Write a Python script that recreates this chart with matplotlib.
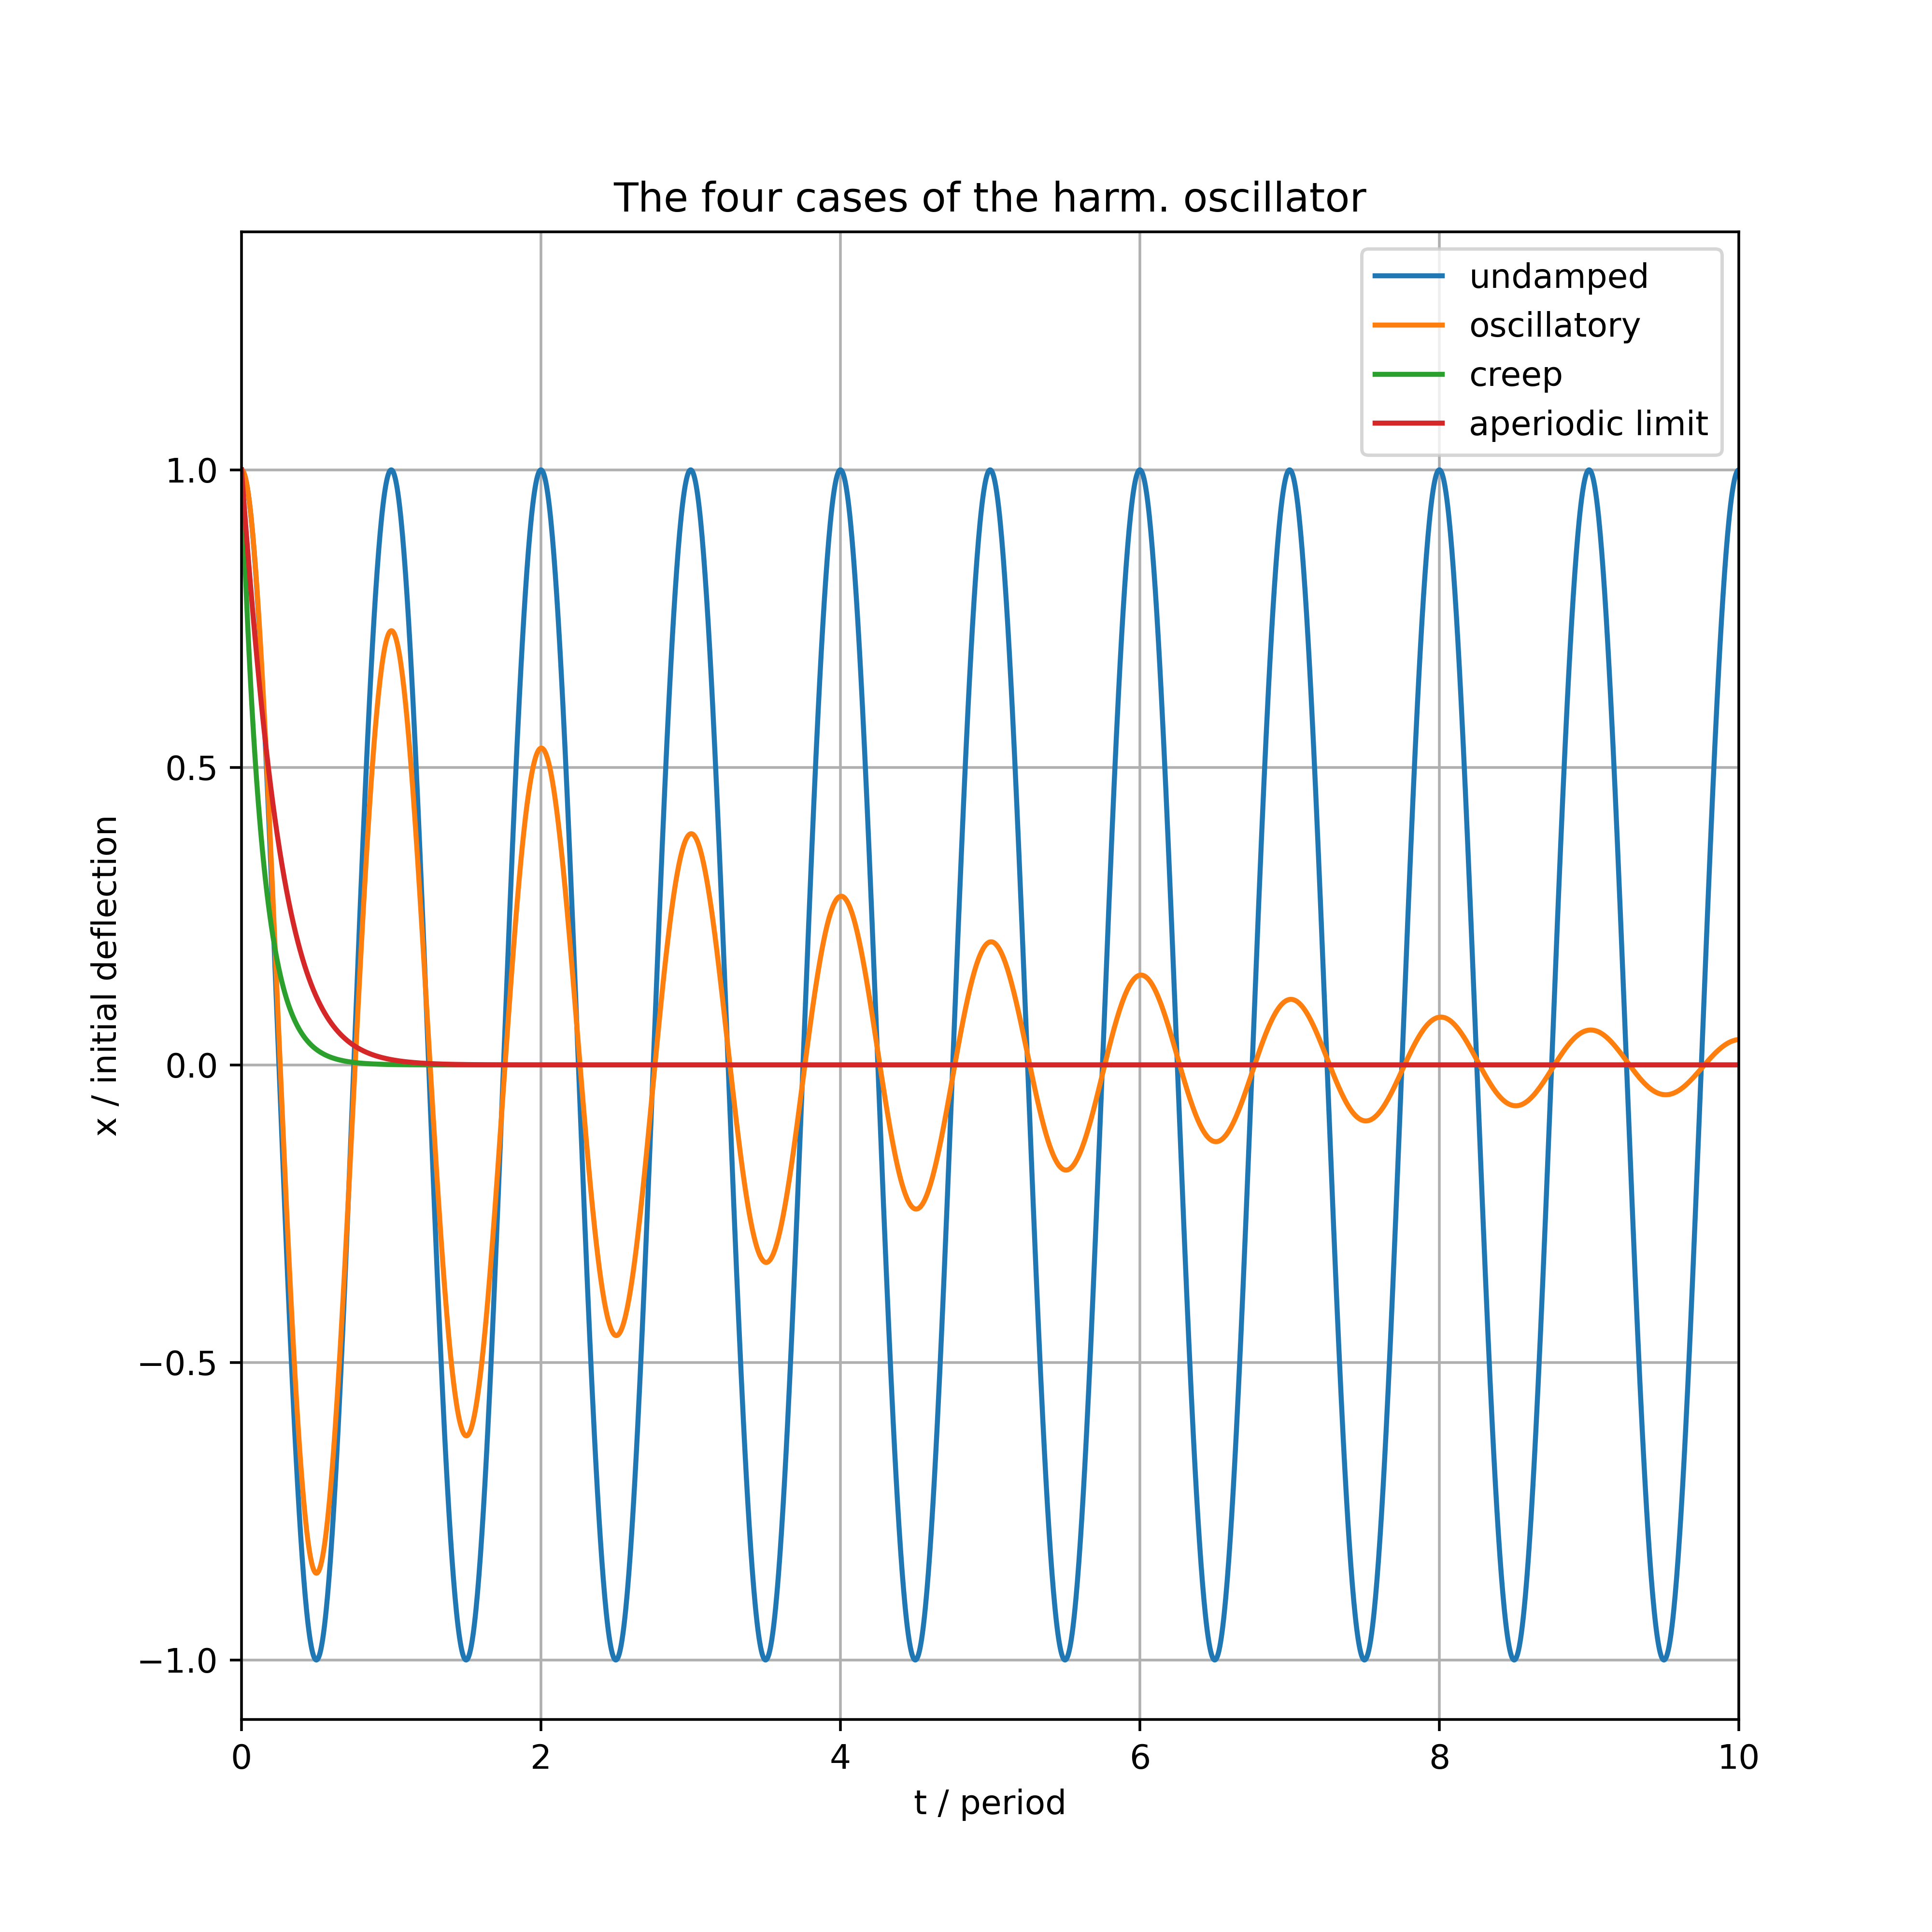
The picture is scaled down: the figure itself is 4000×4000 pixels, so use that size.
import numpy as np
import matplotlib
matplotlib.use("Agg")
import matplotlib.pyplot as plt

# parameters
t_max = 10.0                      # time axis in periods
n_points = 2000
peak_ratio = 0.73                 # oscillatory: amplitude kept per period
creep_rate = 7.3                  # creep: decay rate per period
limit_a, limit_b = 2.6, 6.0       # aperiodic limit: (1 + a t) exp(-b t)

labels = ["undamped", "oscillatory", "creep", "aperiodic limit"]

t = np.linspace(0, t_max, n_points)
w0 = 2 * np.pi
delta = -np.log(peak_ratio)
wd = np.sqrt(w0**2 - delta**2)

undamped = np.cos(w0 * t)
oscillatory = np.exp(-delta * t) * (np.cos(wd * t) + delta / wd * np.sin(wd * t))
creep = np.exp(-creep_rate * t)
aperiodic = (1 + limit_a * t) * np.exp(-limit_b * t)

fig = plt.figure(figsize=(8, 8), dpi=500)
plt.plot(t, undamped, label=labels[0])
plt.plot(t, oscillatory, label=labels[1])
plt.plot(t, creep, label=labels[2])
plt.plot(t, aperiodic, label=labels[3])
plt.xlim(0, t_max)
plt.ylim(-1.1, 1.4)
plt.grid(True)
plt.title("The four cases of the harm. oscillator")
plt.xlabel("t / period")
plt.ylabel("x / initial deflection")
plt.legend(loc="upper right")
plt.savefig("out.png", dpi=500)
